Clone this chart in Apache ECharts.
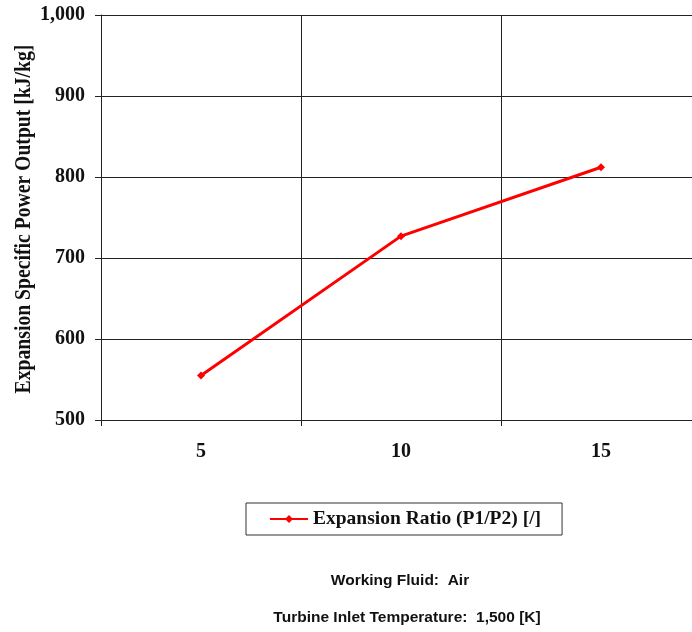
<!DOCTYPE html>
<html><head><meta charset="utf-8">
<script src="https://cdn.jsdelivr.net/npm/echarts@6/dist/echarts.min.js"></script>
<style>html,body{margin:0;padding:0;background:#fff}#c{width:692px;height:632px}</style>
</head><body><div id="c"></div>
<script>
const categories = ['5', '10', '15'];
const specificPower = [555, 727, 812];
const yTicks = { min: 500, max: 1000, interval: 100 };
const seriesName = 'Expansion Ratio (P1/P2) [/]';
const yTitle = 'Expansion Specific Power Output [kJ/kg]';
const notes = ['Working Fluid:  Air', 'Turbine Inlet Temperature:  1,500 [K]'];

const chart = echarts.init(document.getElementById('c'));
const serif = '"Liberation Serif", "Times New Roman", serif';
const sans = '"Liberation Sans", Arial, sans-serif';
chart.setOption({
  animation: false,
  grid: { left: 101, top: 15, bottom: 212, right: -9, containLabel: false, outerBoundsMode: 'none' },
  xAxis: {
    type: 'category', data: categories, boundaryGap: true,
    axisLine: { show: true, lineStyle: { color: '#222', width: 1 } },
    axisTick: { show: true, length: 6, alignWithLabel: false, lineStyle: { color: '#222' } },
    splitLine: { show: true, lineStyle: { color: '#222', width: 1 } },
    axisLabel: { fontFamily: serif, fontWeight: 'bold', fontSize: 20, color: '#111', margin: 22 }
  },
  yAxis: {
    type: 'value', min: yTicks.min, max: yTicks.max, interval: yTicks.interval,
    axisLine: { show: true, lineStyle: { color: '#222', width: 1 } },
    axisTick: { show: true, length: 6, lineStyle: { color: '#222' } },
    splitLine: { show: true, lineStyle: { color: '#222', width: 1 } },
    axisLabel: { fontFamily: serif, fontWeight: 'bold', fontSize: 20, color: '#111', margin: 16,
      formatter: v => v.toLocaleString('en-US') }
  },
  legend: {
    left: 246, top: 503,
    data: [seriesName],
    borderColor: '#333', borderWidth: 1, padding: [6, 21, 6, 23],
    itemWidth: 38, itemHeight: 10, itemGap: 4,
    textStyle: { fontFamily: serif, fontWeight: 'bold', fontSize: 19.5, color: '#111' }
  },
  series: [{
    name: seriesName, type: 'line', data: specificPower,
    symbol: 'diamond', symbolSize: 8, showSymbol: true,
    lineStyle: { color: '#ff0000', width: 3 },
    itemStyle: { color: '#ff0000' }
  }],
  graphic: [
    { type: 'text', x: 24, y: 219, rotation: Math.PI / 2, scaleX: 0.82,
      style: { text: yTitle, font: 'bold 24px ' + serif, fill: '#111', align: 'center', verticalAlign: 'middle' } },
    { type: 'text', x: 400, y: 581, style: { text: notes[0], font: 'bold 15.5px ' + sans, fill: '#111', align: 'center', verticalAlign: 'middle' } },
    { type: 'text', x: 407, y: 618, style: { text: notes[1], font: 'bold 15.5px ' + sans, fill: '#111', align: 'center', verticalAlign: 'middle' } }
  ]
});
</script></body></html>
